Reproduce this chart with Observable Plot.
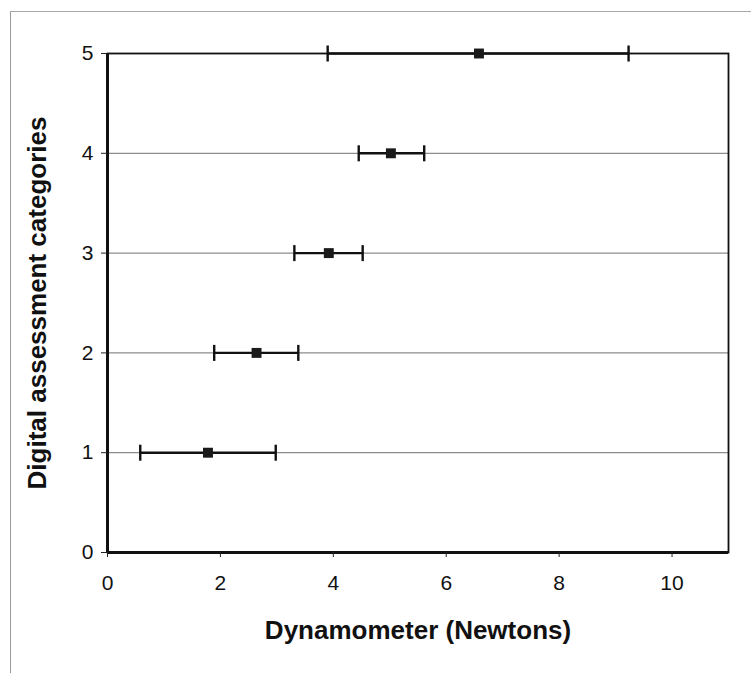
<!DOCTYPE html>
<html>
<head>
<meta charset="utf-8">
<script src="https://cdn.jsdelivr.net/npm/d3@7"></script>
<script src="https://cdn.jsdelivr.net/npm/@observablehq/plot@0.6"></script>
<style>
  html, body { margin: 0; padding: 0; background: #fff; }
  #wrap { position: relative; width: 751px; height: 673px; overflow: hidden; }
  #border { position: absolute; left: 10px; top: 11px; width: 800px; height: 700px;
            border-left: 1px solid #9a9a9a; border-top: 1px solid #a8a8a8; pointer-events: none; }
</style>
</head>
<body>
<div id="wrap"><div id="border"></div></div>
<script>
const categories = [1, 2, 3, 4, 5];
const means = [1.78, 2.64, 3.92, 5.02, 6.58];
const lows = [0.58, 1.89, 3.31, 4.45, 3.90];
const highs = [2.98, 3.38, 4.52, 5.61, 9.23];
const xTicks = [0, 2, 4, 6, 8, 10];
const yTicks = [0, 1, 2, 3, 4, 5];
const gridLines = [1, 2, 3, 4];
const xLabel = "Dynamometer (Newtons)";
const yLabel = "Digital assessment categories";

const data = categories.map((c, i) => ({cat: c, mean: means[i], lo: lows[i], hi: highs[i]}));

const capSymbol = {
  draw(ctx, size) {
    const h = 8;
    ctx.moveTo(0, -h);
    ctx.lineTo(0, h);
  }
};

const font = "'Liberation Sans', Arial, sans-serif";

const chart = Plot.plot({
  width: 751,
  height: 673,
  marginLeft: 107,
  marginRight: 23,
  marginTop: 53,
  marginBottom: 121,
  style: {fontFamily: font, background: "transparent", color: "#111"},
  x: {domain: [0, 11], ticks: xTicks, label: null},
  y: {domain: [0, 5], ticks: yTicks, label: null},
  marks: [
    Plot.ruleY(gridLines, {stroke: "#8c8c8c", strokeWidth: 1.2}),
    Plot.frame({stroke: "#111", strokeWidth: 1.8}),
    Plot.ruleX([0], {stroke: "#111", strokeWidth: 3}),
    Plot.ruleY([0], {stroke: "#111", strokeWidth: 3}),
    Plot.axisX({ticks: xTicks, tickSize: 5, tickPadding: 18, fontSize: 21, label: null, stroke: "#222", tickFormat: d3.format("d")}),
    Plot.axisY({ticks: yTicks, tickSize: 6, tickPadding: 8, fontSize: 21, label: null, stroke: "#222", tickFormat: d3.format("d")}),
    Plot.link(data, {x1: "lo", x2: "hi", y1: "cat", y2: "cat", stroke: "#111", strokeWidth: 2.4}),
    Plot.dot(data, {x: "lo", y: "cat", symbol: capSymbol, stroke: "#111", strokeWidth: 2.4, fill: "none"}),
    Plot.dot(data, {x: "hi", y: "cat", symbol: capSymbol, stroke: "#111", strokeWidth: 2.4, fill: "none"}),
    Plot.dot(data, {x: "mean", y: "cat", symbol: "square", r: 5.6, fill: "#1a1a1a", stroke: "none"}),
    Plot.text([xLabel], {frameAnchor: "bottom", dy: 86, fontSize: 26, fontWeight: "bold", fill: "#111"}),
    Plot.text([yLabel], {frameAnchor: "left", dx: -70, rotate: -90, textAnchor: "middle", fontSize: 26, fontWeight: "bold", fill: "#111"})
  ]
});

document.getElementById("wrap").appendChild(chart);
chart.style.position = "absolute";
chart.style.left = "0";
chart.style.top = "0";
</script>
</body>
</html>
